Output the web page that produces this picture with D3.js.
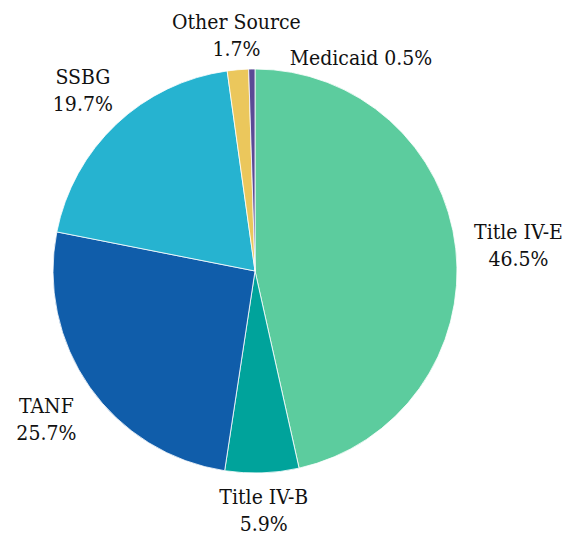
<!DOCTYPE html>
<html>
<head>
<meta charset="utf-8">
<script src="https://cdn.jsdelivr.net/npm/d3@7"></script>
<style>
  body { margin: 0; background: #fff; }
  .label { font-family: "DejaVu Serif Condensed", "DejaVu Serif", serif; font-stretch: condensed; }
</style>
</head>
<body>
<div id="chart"></div>
<script>
// funding share by source, clockwise from 12 o'clock
const sources = ["Title IV-E", "Title IV-B", "TANF", "SSBG", "Other Source", "Medicaid"];
const shares = [46.5, 5.9, 25.7, 19.7, 1.7, 0.5];
const colors = ["#5ccc9e", "#00a39b", "#105daa", "#26b3d0", "#ebc75c", "#5a4a95"];

const width = 585, height = 535;
const cx = 255, cy = 271, radius = 202;

const svg = d3.select("#chart")
    .append("svg")
    .attr("width", width)
    .attr("height", height);

const g = svg.append("g")
    .attr("transform", "translate(" + cx + "," + cy + ")");

const data = sources.map((s, i) => ({ name: s, value: shares[i], color: colors[i] }));

const pie = d3.pie()
    .sort(null)
    .value(d => d.value);

const arc = d3.arc()
    .innerRadius(0)
    .outerRadius(radius);

const labelArc = d3.arc()
    .innerRadius(255)
    .outerRadius(255);

const arcs = pie(data);

g.selectAll("path")
    .data(arcs)
    .enter()
    .append("path")
    .attr("d", arc)
    .attr("fill", d => d.data.color)
    .attr("stroke", "#fff")
    .attr("stroke-width", 0.8);

// small nudges so labels sit where the original put them (dx, dy, two lines?)
const nudge = {
    "Title IV-E": [10, 2, true],
    "Title IV-B": [0, -16, true],
    "TANF": [0, 1, true],
    "SSBG": [3, 4, true],
    "Other Source": [3, 18, true],
    "Medicaid": [110, 42, false]
};

const fmt = d => d.toFixed(1) + "%";

const labels = g.selectAll(".label")
    .data(arcs)
    .enter()
    .append("text")
    .attr("class", "label")
    .attr("font-size", 21)
    .attr("fill", "#111")
    .attr("text-anchor", "middle")
    .attr("transform", function (d) {
        const c = labelArc.centroid(d);
        const n = nudge[d.data.name];
        return "translate(" + (c[0] + n[0]) + "," + (c[1] + n[1]) + ")";
    });

labels.each(function (d) {
    const t = d3.select(this);
    if (nudge[d.data.name][2]) {
        t.append("tspan").attr("x", 0).attr("y", -6).text(d.data.name);
        t.append("tspan").attr("x", 0).attr("y", 21).text(fmt(d.data.value));
    } else {
        t.append("tspan").attr("x", 0).attr("y", 7).text(d.data.name + " " + fmt(d.data.value));
    }
});
</script>
</body>
</html>
